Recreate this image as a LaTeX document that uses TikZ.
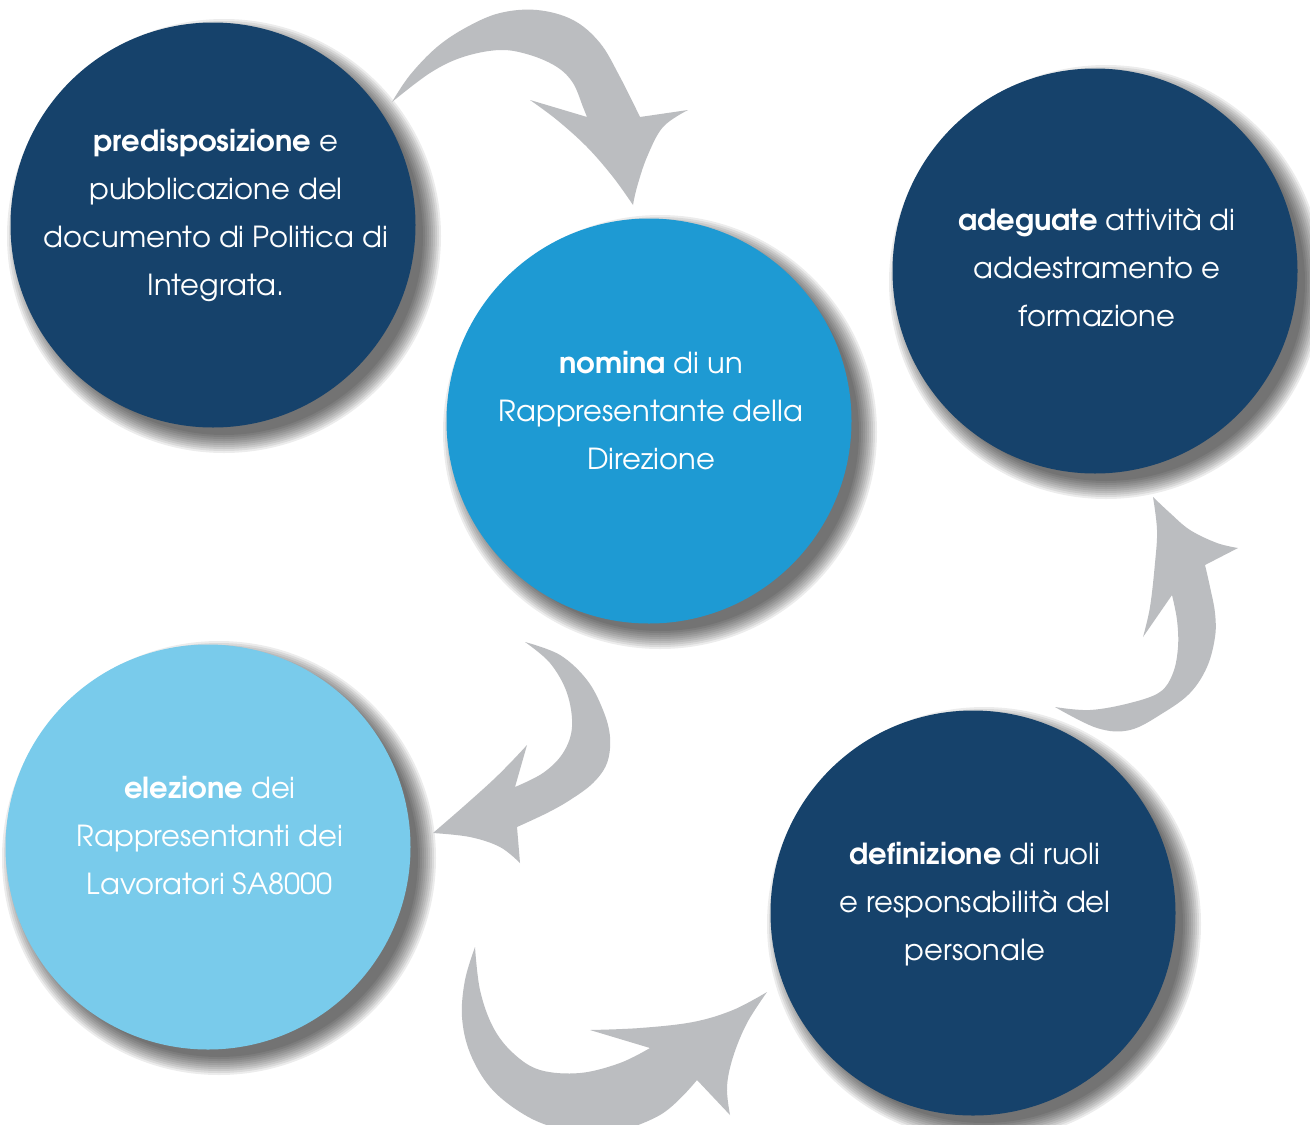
\documentclass[tikz,border=0pt]{standalone}
\usepackage{fontspec}
\setmainfont{texgyreadventor}[Extension=.otf, UprightFont=*-regular, BoldFont=*-bold, ItalicFont=*-italic, BoldItalicFont=*-bolditalic]
\definecolor{navy}{RGB}{22,66,107}
\definecolor{midblue}{RGB}{30,154,211}
\definecolor{lightblue}{RGB}{121,203,235}
\definecolor{arrowgray}{RGB}{187,189,192}
\begin{document}
\begin{tikzpicture}[x=0.5pt,y=-0.5pt,
  circ/.style={circle, minimum size=202.5pt, inner sep=0pt},
  txt/.style={text=white, align=center, font=\fontsize{14.5}{24}\selectfont},
  arr/.style={fill=arrowgray},
  shade/.style={fill=black, opacity=0.075}]
\useasboundingbox (0,0) rectangle (1310,1124);
\clip (0,0) rectangle (1310,1124);
\fill[white] (0,0) rectangle (1310,1124);

\coordinate (p1) at (213,225);
\coordinate (p2) at (649,421);
\coordinate (p3) at (1095,271);
\coordinate (p4) at (208,847);
\coordinate (p5) at (973,913);

% shadows
\foreach \p in {p1,p2,p3,p4,p5}{
  \foreach \k in {0,...,9}{
    \fill[shade] ([shift={(11,11)}]\p) circle[radius={(203+14-2*\k)*0.5pt}];
  }
}

% arrows
\fill[arr] plot[smooth,tension=0.6] coordinates {(392,102) (410,75) (437,47) (467,27) (500,13) (537,10) (573,20) (600,43) (620,77) (640,117)}
  -- (688,110)
  -- plot[smooth,tension=0.6] coordinates {(688,110) (663,127) (647,157) (637,187) (633,205)}
  -- plot[smooth,tension=0.6] coordinates {(633,205) (613,177) (587,147) (557,120) (530,100)}
  -- (587,117)
  -- plot[smooth,tension=0.6] coordinates {(587,117) (583,107) (573,83) (557,67) (530,55) (500,50) (463,57) (430,73) (392,102)}
  -- cycle;

\fill[arr] plot[smooth,tension=0.6] coordinates {(1055,707) (1097,728) (1130,730) (1163,713) (1190,693) (1207,667) (1215,637) (1215,613) (1210,587) (1205,565)}
  -- (1238,548)
  -- plot[smooth,tension=0.6] coordinates {(1238,548) (1217,543) (1190,530) (1170,513) (1153,497)}
  -- plot[smooth,tension=0.6] coordinates {(1153,497) (1157,530) (1155,563) (1150,607) (1143,637)}
  -- (1172,595)
  -- plot[smooth,tension=0.6] coordinates {(1172,595) (1177,620) (1178,647) (1173,673) (1160,692) (1130,703) (1090,710) (1055,707)}
  -- cycle;

\fill[arr] plot[smooth,tension=0.6] coordinates {(525,642) (560,655) (587,680) (603,710) (610,737) (607,763) (593,783) (570,800) (547,813) (517,827)}
  -- (520,863)
  -- plot[smooth,tension=0.6] coordinates {(520,863) (500,847) (470,837) (433,833)}
  -- plot[smooth,tension=0.6] coordinates {(433,833) (463,807) (493,780) (513,760) (527,745)}
  -- (515,787)
  -- plot[smooth,tension=0.6] coordinates {(515,787) (543,773) (563,753) (572,727) (567,693) (550,663) (525,642)}
  -- cycle;

\fill[arr] plot[smooth,tension=0.6] coordinates {(475,947) (465,980) (462,1017) (470,1053) (490,1087) (520,1112) (553,1127) (600,1135) (660,1115) (697,1080)}
  -- (730,1115)
  -- plot[smooth,tension=0.6] coordinates {(730,1115) (727,1087) (733,1057) (747,1023) (767,992)}
  -- plot[smooth,tension=0.6] coordinates {(767,992) (733,1010) (693,1022) (640,1028) (590,1030)}
  -- (650,1048)
  -- plot[smooth,tension=0.6] coordinates {(650,1048) (620,1063) (580,1073) (540,1070) (513,1053) (493,1027) (480,990) (475,947)}
  -- cycle;

% circles
\node[circ, fill=navy] (c1) at (p1) {};
\node[circ, fill=midblue] (c2) at (p2) {};
\node[circ, fill=navy] (c3) at (p3) {};
\node[circ, fill=lightblue] (c4) at (p4) {};
\node[circ, fill=navy] (c5) at (p5) {};

% texts
\node[txt] (t1) at (216,215) {\textbf{predisposizione} e\\pubblicazione del\\documento di Politica di\\Integrata.};
\node[txt] (t2) at (651,411) {\textbf{nomina} di un\\Rappresentante della\\Direzione};
\node[txt] (t3) at (1097,268) {\textbf{adeguate} attività di\\addestramento e\\formazione};
\node[txt] (t4) at (210,836) {\textbf{elezione} dei\\Rappresentanti dei\\Lavoratori SA8000};
\node[txt] (t5) at (975,904) {\textbf{definizione} di ruoli\\e responsabilità del\\personale};
\end{tikzpicture}
\end{document}
